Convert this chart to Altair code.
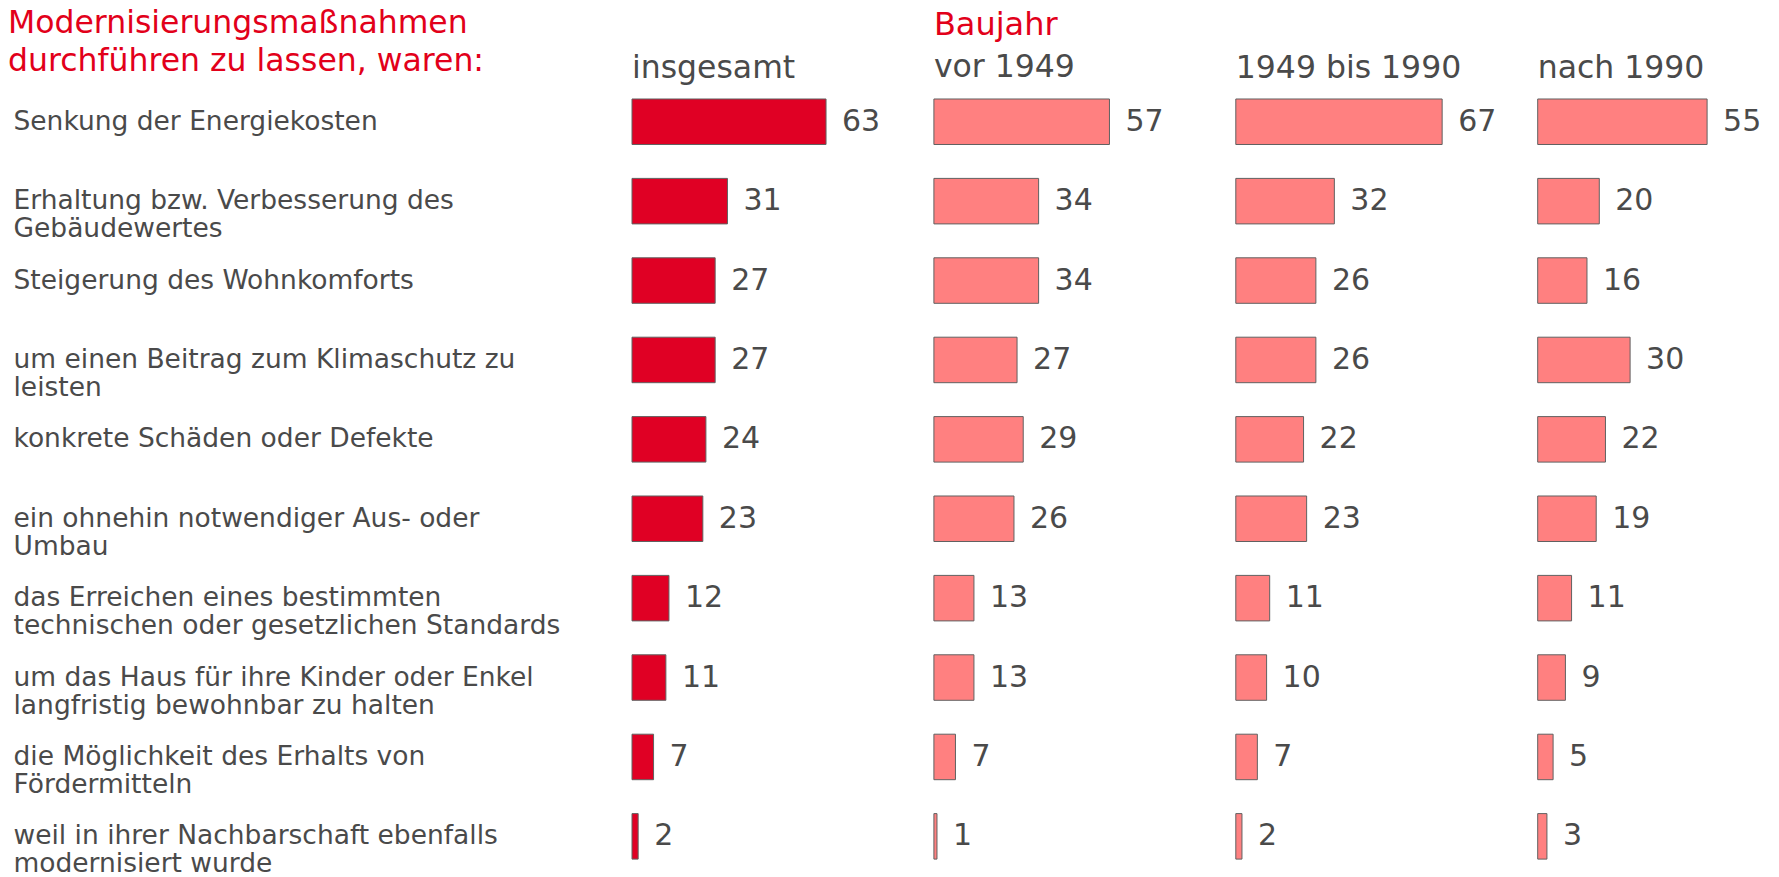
import altair as alt
import pandas as pd

# ---------------- data ----------------
categories = [
    "Senkung der Energiekosten",
    "Erhaltung bzw. Verbesserung des|Gebäudewertes",
    "Steigerung des Wohnkomforts",
    "um einen Beitrag zum Klimaschutz zu|leisten",
    "konkrete Schäden oder Defekte",
    "ein ohnehin notwendiger Aus- oder|Umbau",
    "das Erreichen eines bestimmten|technischen oder gesetzlichen Standards",
    "um das Haus für ihre Kinder oder Enkel|langfristig bewohnbar zu halten",
    "die Möglichkeit des Erhalts von|Fördermitteln",
    "weil in ihrer Nachbarschaft ebenfalls|modernisiert wurde",
]
insgesamt = [63, 31, 27, 27, 24, 23, 12, 11, 7, 2]
vor_1949 = [57, 34, 34, 27, 29, 26, 13, 13, 7, 1]
von_1949_bis_1990 = [67, 32, 26, 26, 22, 23, 11, 10, 7, 2]
nach_1990 = [55, 20, 16, 30, 22, 19, 11, 9, 5, 3]
group_labels = ["insgesamt", "vor 1949", "1949 bis 1990", "nach 1990"]
title_lines = ["Modernisierungsmaßnahmen", "durchführen zu lassen, waren:"]
baujahr_label = "Baujahr"

# ---------------- style ----------------
FONT = "DejaVu Sans"
TXT = "#4a4a4a"
RED = "#E2001A"
BAR_RED = "#E00024"
BAR_PINK = "#FF8080"
STROKE = "#606060"

STEP = 79.4
BAR_H = 45.5
PAD_INNER = (STEP - BAR_H) / STEP
PLOT_H = STEP * len(categories) - (STEP - BAR_H)
PX_PER_UNIT = 3.08
COL_STEP = 300.1
HEAD_SIZE = 31.5


def panel(values, color, dmax, title, yaxis):
    df = pd.DataFrame({"Kategorie": categories, "Wert": values})
    y = alt.Y(
        "Kategorie:N",
        sort=categories,
        scale=alt.Scale(paddingInner=PAD_INNER, paddingOuter=0),
        axis=yaxis,
    )
    x = alt.X(
        "Wert:Q",
        scale=alt.Scale(domain=[0, dmax], nice=False, zero=True),
        axis=None,
    )
    base = alt.Chart(df).encode(x=x, y=y)
    bars = base.mark_bar(color=color, stroke=STROKE, strokeWidth=1)
    labels = base.mark_text(
        align="left", baseline="middle", dx=16, fontSize=30, font=FONT, color=TXT
    ).encode(text="Wert:Q")
    return (bars + labels).properties(
        width=dmax * PX_PER_UNIT, height=PLOT_H, title=title
    )


yaxis_main = alt.Axis(
    title=None,
    labelAlign="left",
    labelPadding=619,
    labelFontSize=26.5,
    labelFont=FONT,
    labelColor=TXT,
    labelLineHeight=28,
    labelBaseline="middle",
    labelExpr="split(datum.label, '|')",
    labelLimit=0,
    labelOverlap=False,
    ticks=False,
    tickSize=0,
    domain=False,
    grid=False,
)


def head(text):
    return alt.TitleParams(
        text, anchor="start", frame="group", fontSize=HEAD_SIZE, font=FONT,
        color=TXT, fontWeight="normal", offset=13.5,
    )


t_baujahr = alt.TitleParams(
    baujahr_label, subtitle=group_labels[1], anchor="start", frame="group",
    fontSize=32, font=FONT, color=RED, fontWeight="normal",
    subtitleFontSize=HEAD_SIZE, subtitleFont=FONT, subtitleColor=TXT,
    subtitleFontWeight="normal", subtitlePadding=10.3, offset=13.5,
)

W_FULL = 90
W_LAST = 72
p1 = panel(insgesamt, BAR_RED, W_FULL, head(group_labels[0]), yaxis_main)
p2 = panel(vor_1949, BAR_PINK, W_FULL, t_baujahr, None)
p3 = panel(von_1949_bis_1990, BAR_PINK, W_FULL, head(group_labels[2]), None)
p4 = panel(nach_1990, BAR_PINK, W_LAST, head(group_labels[3]), None)

chart = alt.hconcat(
    p1, p2, p3, p4, spacing=COL_STEP - W_FULL * PX_PER_UNIT
).properties(
    title=alt.TitleParams(
        title_lines, anchor="start", fontSize=31.5, font=FONT, color=RED,
        fontWeight="normal", lineHeight=37.5, offset=-68.3, dx=-5,
    ),
    padding=0,
).configure(background="white").configure_view(stroke=None)

chart.save("out.html", embed_options={"renderer": "svg", "actions": False})
